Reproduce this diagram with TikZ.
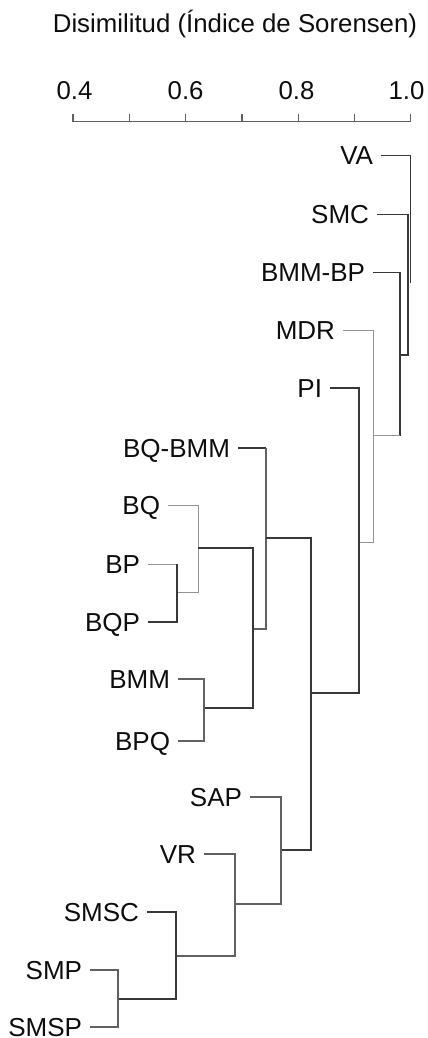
\documentclass[tikz,border=0pt]{standalone}
\usepackage{fontspec}
\setmainfont{Liberation Sans}
\begin{document}
\begin{tikzpicture}[x=1pt,y=-1pt,
  leaf/.style={font=\fontsize{26}{30}\selectfont, text=black!95, text height=18.5pt, text depth=0pt,
    inner ysep=0pt, inner xsep=0pt, outer xsep=8pt, outer ysep=0pt, anchor=east},
  axlabel/.style={font=\fontsize{25.8}{30}\selectfont, text=black!95, anchor=base, inner sep=0pt},
  dk/.style={draw=black!78, line width=1.4pt},
  md/.style={draw=black!62, line width=1.2pt},
  lt/.style={draw=black!42, line width=1pt}]
\useasboundingbox (0,0) rectangle (428,1038);

% title
\node[axlabel] (title) at (235,33) {Disimilitud (Índice de Sorensen)};

% axis
\draw[md] (73,121.7) -- (411,121.7);
\foreach \xx in {73,129.3,185.6,241.9,298.2,354.5,410.8} {
  \draw[md] (\xx,114) -- (\xx,121.7);
}
\node[axlabel] (a04) at (74.5,100) {0.4};
\node[axlabel] (a06) at (185.6,100) {0.6};
\node[axlabel] (a08) at (296.5,100) {0.8};
\node[axlabel] (a10) at (406.5,100) {1.0};

% leaves
\node[leaf] (VA) at (381,155.5) {VA};
\node[leaf] (SMC) at (377,214.5) {SMC};
\node[leaf] (BMMBP) at (373,272.5) {BMM-BP};
\node[leaf] (MDR) at (343,330) {MDR};
\node[leaf] (PI) at (330,388) {PI};
\node[leaf] (BQBMM) at (238,448) {BQ-BMM};
\node[leaf] (BQ) at (168,505) {BQ};
\node[leaf] (BP) at (148,564) {BP};
\node[leaf] (BQP) at (148,622) {BQP};
\node[leaf] (BMM) at (178,679) {BMM};
\node[leaf] (BPQ) at (178,741) {BPQ};
\node[leaf] (SAP) at (250,797) {SAP};
\node[leaf] (VR) at (204,854) {VR};
\node[leaf] (SMSC) at (147,912) {SMSC};
\node[leaf] (SMP) at (90,970) {SMP};
\node[leaf] (SMSP) at (90,1027) {SMSP};

% upper cluster
\draw[dk] (VA.east) -- (410.5,155.5) -- (410.5,283);
\draw[dk] (SMC.east) -- (408,214.5) -- (408,355) -- (400,355);
\draw[dk] (BMMBP.east) -- (400,272.5) -- (400,435.5);
\draw[lt] (400,435.5) -- (373,435.5);
\draw[lt] (MDR.east) -- (373,330) -- (373,542) -- (359,542);
\draw[dk] (PI.east) -- (359,388) -- (359,693) -- (311,693);

% middle cluster
\draw[dk] (BQBMM.east) -- (266,448);
\draw[md] (266,448) -- (266,629) -- (253,629);
\draw[dk] (266,538) -- (311,538) -- (311,850) -- (281,850);
\draw[lt] (BQ.east) -- (198,505) -- (198,592) -- (177,592);
\draw[lt] (BP.east) -- (177,564);
\draw[dk] (177,564) -- (177,622) -- (BQP.east);
\draw[dk] (198,548) -- (253,548) -- (253,708) -- (204,708);
\draw[md] (BMM.east) -- (204,679) -- (204,741) -- (BPQ.east);

% lower cluster
\draw[md] (SAP.east) -- (281,797) -- (281,904) -- (235,904);
\draw[md] (VR.east) -- (235,854) -- (235,956) -- (176,956);
\draw[dk] (SMSC.east) -- (176,912) -- (176,999) -- (118,999);
\draw[md] (SMP.east) -- (118,970) -- (118,1027) -- (SMSP.east);
\end{tikzpicture}
\end{document}
